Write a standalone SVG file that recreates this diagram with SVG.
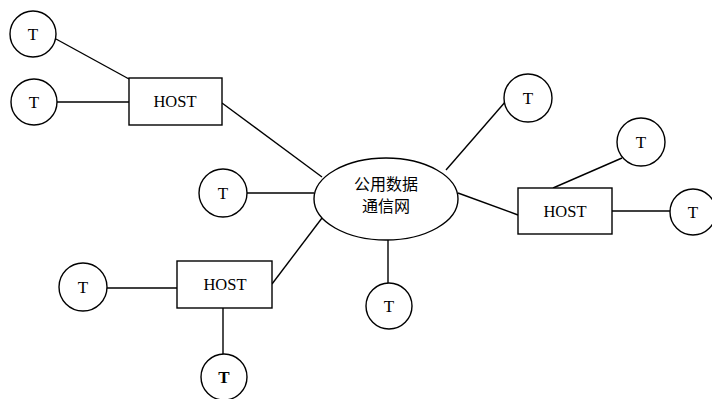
<svg xmlns="http://www.w3.org/2000/svg" width="712" height="399" viewBox="0 0 712 399">
<style>
.n{fill:#fff;stroke:#000;stroke-width:1.4}
.c line{stroke:#000;stroke-width:1.4}
.t{font-family:"Liberation Serif",serif;font-size:17px;fill:#000;text-anchor:middle}
.h{font-family:"Liberation Serif",serif;font-size:16.5px;fill:#000;text-anchor:middle}
.z{font-family:"Noto Sans CJK SC",sans-serif;font-size:16px;fill:#000;text-anchor:middle}
</style>
<rect width="712" height="399" fill="#fff"/>
<g class="c" id="connectors">
<line x1="56" y1="39" x2="129" y2="79"/>
<line x1="57" y1="102" x2="129" y2="102"/>
<line x1="222" y1="103" x2="322" y2="177"/>
<line x1="247" y1="193" x2="314" y2="193"/>
<line x1="272" y1="284" x2="322" y2="218"/>
<line x1="107" y1="288" x2="177" y2="288"/>
<line x1="223" y1="308" x2="223" y2="354"/>
<line x1="388" y1="240" x2="388" y2="283"/>
<line x1="446" y1="170" x2="506" y2="101"/>
<line x1="458" y1="193" x2="518" y2="215"/>
<line x1="553" y1="188" x2="622" y2="158"/>
<line x1="612" y1="211" x2="670" y2="211"/>
</g>
<g id="net"><ellipse class="n" cx="386" cy="199" rx="72" ry="41"/>
<text class="z" x="386" y="190">公用数据</text><text class="z" x="386" y="212">通信网</text></g>
<g id="host1"><rect class="n" x="129" y="78" width="93" height="47"/><text class="h" x="175" y="107">HOST</text></g>
<g id="host2"><rect class="n" x="177" y="261" width="95" height="47"/><text class="h" x="225" y="290">HOST</text></g>
<g id="host3"><rect class="n" x="518" y="188" width="94" height="46"/><text class="h" x="565" y="217">HOST</text></g>
<g id="t1"><circle class="n" cx="33" cy="34" r="23"/><text class="t" x="33" y="40">T</text></g>
<g id="t2"><circle class="n" cx="34" cy="102" r="23"/><text class="t" x="34" y="108">T</text></g>
<g id="t3"><circle class="n" cx="223" cy="193" r="24"/><text class="t" x="223" y="199">T</text></g>
<g id="t4"><circle class="n" cx="83" cy="287" r="24"/><text class="t" x="83" y="293">T</text></g>
<g id="t5"><circle class="n" cx="224" cy="377" r="23"/><text class="t" x="224" y="383" font-weight="bold">T</text></g>
<g id="t6"><circle class="n" cx="389" cy="306" r="23"/><text class="t" x="389" y="312">T</text></g>
<g id="t7"><circle class="n" cx="528" cy="98" r="24"/><text class="t" x="528" y="104">T</text></g>
<g id="t8"><circle class="n" cx="641" cy="142" r="24"/><text class="t" x="641" y="148">T</text></g>
<g id="t9"><circle class="n" cx="693" cy="212" r="23"/><text class="t" x="693" y="218">T</text></g>
</svg>
